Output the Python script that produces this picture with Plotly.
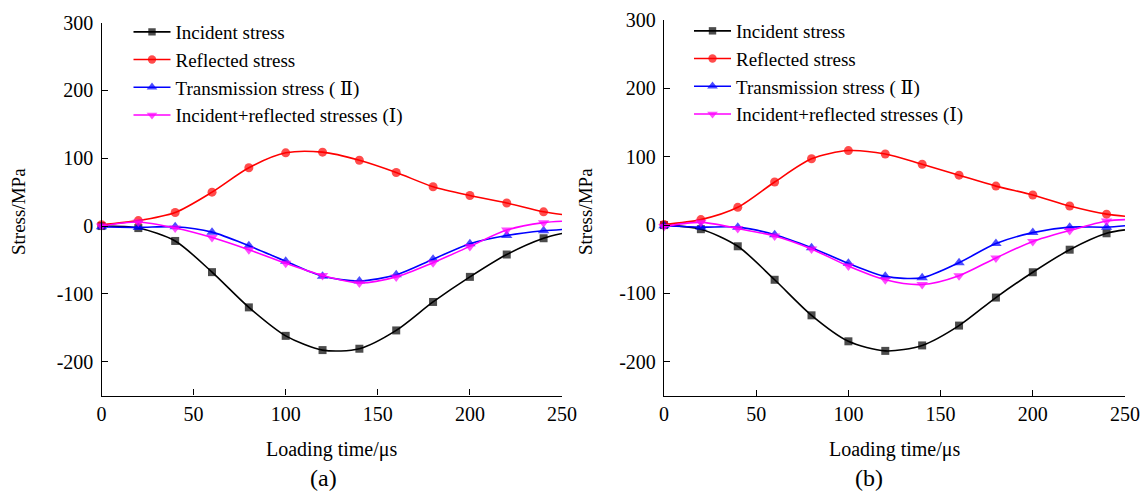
import plotly.graph_objects as go

# ---------------- data ----------------
t = [0, 20, 40, 60, 80, 100, 120, 140, 160, 180, 200, 220, 240, 250]   # last point = curve end (no marker)

a_incident = [0, -3, -22, -68, -120, -162, -183, -181, -154, -112, -75, -42, -18, -11]
a_reflected = [2, 8, 20, 50, 86, 108, 109, 97, 79, 58, 45, 34, 21, 17]
a_transmission = [-1, -2, -1, -9, -29, -52, -74, -81, -72, -49, -26, -14, -7, -5]
a_inc_ref = [0, 6, -3, -17, -35, -55, -73, -84, -75, -54, -30, -6, 5, 7]

b_incident = [0, -6, -31, -80, -132, -170, -184, -176, -147, -106, -69, -36, -12, -7]
b_reflected = [1, 8, 26, 63, 97, 109, 104, 89, 73, 57, 44, 28, 16, 13]
b_transmission = [-1, -3, -3, -14, -33, -56, -75, -77, -55, -27, -11, -3, -3, -1]
b_inc_ref = [-2, 4, -5, -16, -35, -60, -80, -87, -74, -48, -24, -8, 6, 8]

names = ["Incident stress", "Reflected stress", "Transmission stress ( \u2161)",
         "Incident+reflected stresses (\u2160)"]
colors = ["#000000", "#FF0000", "#0000FF", "#FF00FF"]
symbols = ["square", "circle", "triangle-up", "triangle-down"]
msizes = [8, 9, 10, 10]

x_ticks = [0, 50, 100, 150, 200, 250]
x_ticktext = ["0", "50", "100", "150", "200", "250"]
y_ticks = [-200, -100, 0, 100, 200, 300]
y_ticktext = ["-200", "-100", "0", "100", "200", "300"]

FONT = "Times New Roman, Liberation Serif, Tinos, DejaVu Serif, serif"
W, H = 1142, 492

fig = go.Figure()

panels = [
    ("x", "y", "legend", [a_incident, a_reflected, a_transmission, a_inc_ref]),
    ("x2", "y2", "legend2", [b_incident, b_reflected, b_transmission, b_inc_ref]),
]
for xa, ya, lg, series in panels:
    for name, col, sym, ms, vals in zip(names, colors, symbols, msizes, series):
        sizes = [ms] * (len(t) - 1) + [0]
        fig.add_trace(go.Scatter(
            x=t, y=vals, name=name, mode="lines+markers",
            line=dict(color=col, width=1.6, shape="spline", smoothing=0.8),
            marker=dict(symbol=sym, size=sizes, color=col, line=dict(width=0)),
            xaxis=xa, yaxis=ya, legend=lg, cliponaxis=False,
        ))

def px_x(p):
    return p / W

def px_y(p):
    return 1 - p / H

axis_common = dict(
    showgrid=False, zeroline=False, showline=True, linecolor="black", linewidth=1.3,
    ticks="inside", ticklen=6, tickwidth=1.3, tickcolor="black", mirror=False,
    tickfont=dict(family=FONT, size=20, color="black"), automargin=False,
)
xax = dict(range=[0, 250], tickvals=x_ticks, ticktext=x_ticktext, ticklabelstandoff=0, **axis_common)
yax = dict(range=[-250, 300], tickvals=y_ticks, ticktext=y_ticktext, ticklabelstandoff=3, **axis_common)

legend_common = dict(xanchor="left", yanchor="top", bgcolor="rgba(0,0,0,0)", itemwidth=37,
                     tracegroupgap=0, font=dict(family=FONT, size=19, color="black"))

fig.update_layout(
    width=W, height=H,
    margin=dict(l=0, r=0, t=0, b=0),
    paper_bgcolor="white", plot_bgcolor="white",
    font=dict(family=FONT, size=20, color="black"),
    xaxis=dict(domain=[px_x(101.5), px_x(562)], anchor="y", **xax),
    yaxis=dict(domain=[px_y(395.5), px_y(22.7)], anchor="x", **yax),
    xaxis2=dict(domain=[px_x(664), px_x(1125)], anchor="y2", **xax),
    yaxis2=dict(domain=[px_y(396), px_y(20)], anchor="x2", **yax),
    legend=dict(x=px_x(128.5), y=px_y(13), **legend_common),
    legend2=dict(x=px_x(689), y=px_y(12), **legend_common),
    showlegend=True,
)

annots = [
    dict(text="Stress/MPa", x=px_x(18), y=px_y(212), textangle=-90, size=19),
    dict(text="Stress/MPa", x=px_x(585), y=px_y(212), textangle=-90, size=19),
    dict(text="Loading time/\u03bcs", x=px_x(331), y=px_y(449), textangle=0, size=20),
    dict(text="Loading time/\u03bcs", x=px_x(894), y=px_y(449), textangle=0, size=20),
    dict(text="(a)", x=px_x(323), y=px_y(478), textangle=0, size=24),
    dict(text="(b)", x=px_x(869), y=px_y(478), textangle=0, size=24),
]
for a in annots:
    fig.add_annotation(text=a["text"], x=a["x"], y=a["y"], xref="paper", yref="paper",
                       xanchor="center", yanchor="middle", showarrow=False,
                       textangle=a["textangle"],
                       font=dict(family=FONT, size=a["size"], color="black"))

fig.write_html("out.html", config={"displayModeBar": False},
               post_script="document.body.style.margin='0px';")
